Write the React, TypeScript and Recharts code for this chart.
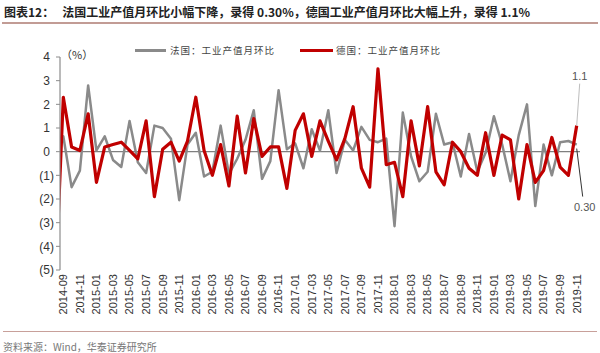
import React from 'react';
import { LineChart, Line, XAxis, YAxis, ReferenceLine, LabelList } from 'recharts';

const months = [
  '2014-08', '2014-09', '2014-10', '2014-11', '2014-12',
  '2015-01', '2015-02', '2015-03', '2015-04', '2015-05', '2015-06', '2015-07', '2015-08', '2015-09', '2015-10', '2015-11', '2015-12',
  '2016-01', '2016-02', '2016-03', '2016-04', '2016-05', '2016-06', '2016-07', '2016-08', '2016-09', '2016-10', '2016-11', '2016-12',
  '2017-01', '2017-02', '2017-03', '2017-04', '2017-05', '2017-06', '2017-07', '2017-08', '2017-09', '2017-10', '2017-11', '2017-12',
  '2018-01', '2018-02', '2018-03', '2018-04', '2018-05', '2018-06', '2018-07', '2018-08', '2018-09', '2018-10', '2018-11', '2018-12',
  '2019-01', '2019-02', '2019-03', '2019-04', '2019-05', '2019-06', '2019-07', '2019-08', '2019-09', '2019-10', '2019-11',
];

const franceMoM = [
  0.3, 0.65, -1.5, -0.8, 2.8, 0.05, 0.65, -0.35, -0.65, 1.3, -0.45, -0.9, 1.1, 1.0, 0.55, -2.05, 0.3, 0.8,
  -1.05, -0.85, 1.1, -0.95, -0.3, 0.5, 1.75, -1.15, -0.4, 2.6, 0.1, 0.35, -0.7, 0.95, 0.05, 1.75, -0.9, 0.5,
  0.05, 1.05, 0.5, 0.4, 0.55, -3.15, 1.65, -0.2, -1.25, -0.85, 1.6, 0.3, 0.4, -1.05, 0.75, -0.85, -0.05, 1.5,
  0.3, -1.25, 0.7, 2.0, -2.3, 0.3, -1.0, 0.4, 0.45, 0.3,
];

const germanyMoM = [
  -6, 2.3, 0.2, 0.05, 1.6, -1.3, 0.2, 0.3, 0.4, 0.05, -0.3, 1.3, -1.9, 0.1, 0.4, -0.4, 0.45, 2.3,
  0.05, -1.0, 0.3, -1.45, 1.5, -0.9, 1.4, -0.2, 0.2, 0.2, -1.55, 0.9, 1.6, -0.2, 1.3, 0.45, -0.35, 0.55,
  1.9, -0.7, -1.5, 3.5, -0.55, -0.45, -1.9, 1.3, -0.6, 1.9, -0.85, -1.4, 0.4, 0.0, -0.7, -1.0, 0.8, -1.0,
  0.7, 0.5, -2.0, 0.3, -1.3, -0.8, 0.6, -0.65, -1.0, 1.1,
];

const yTicks = [-5, -4, -3, -2, -1, 0, 1, 2, 3, 4];
const franceName = '法国：工业产值月环比';
const germanyName = '德国：工业产值月环比';
const franceLast = '0.30';
const germanyLast = '1.1';

// index 0 = 2014-09 (first labelled month); the earlier month sits left of the axis and is clipped
const data = months.map((m, i) => ({ idx: i - 1, month: m, france: franceMoM[i], germany: germanyMoM[i] }));
const xTicks = data.filter((d) => d.idx >= 0 && d.idx % 2 === 0).map((d) => d.idx);
const lastIdx = data.length - 1;

const GRAY = '#8a8a8a';
const RED = '#c00000';
const NUM_FONT = '"Liberation Sans", Arial, sans-serif';
const CJK_FONT = '"Noto Sans CJK SC", "Noto Sans", sans-serif';

const XTick = (props: any) => {
  const { x, y, payload } = props;
  const d = data.find((r) => r.idx === payload.value);
  return (
    <text
      x={x}
      y={y - 4}
      transform={`rotate(-90, ${x}, ${y - 4})`}
      textAnchor="end"
      dy="0.35em"
      fontSize={11}
      fill="#333"
      fontFamily={NUM_FONT}
    >
      {d ? d.month : ''}
    </text>
  );
};

const YTick = (props: any) => {
  const { x, y, payload } = props;
  const v = payload.value as number;
  const label = v < 0 ? `(${Math.abs(v)})` : `${v}`;
  return (
    <text
      x={v < 0 ? x : x - 4}
      y={y}
      dy="0.35em"
      textAnchor="end"
      fontSize={12}
      fill="#333"
      fontFamily={NUM_FONT}
    >
      {label}
    </text>
  );
};

const makeEndLabel = (text: string, dir: 'up' | 'down') => (props: any) => {
  const { x, y, index } = props;
  if (index !== lastIdx) return null;
  if (dir === 'up') {
    return (
      <g>
        <line x1={x} y1={y} x2={x + 3} y2={y - 42} stroke="#bdbdbd" strokeWidth={1} />
        <text x={x + 3} y={y - 46} textAnchor="middle" fontSize={11} fill="#555" fontFamily={NUM_FONT}>
          {text}
        </text>
      </g>
    );
  }
  return (
    <g>
      <line x1={x} y1={y + 4} x2={x + 6} y2={y + 52} stroke="#333" strokeWidth={1} />
      <text x={x + 8} y={y + 66} textAnchor="middle" fontSize={11} fill="#555" fontFamily={NUM_FONT}>
        {text}
      </text>
    </g>
  );
};

const legendText: React.CSSProperties = {
  position: 'absolute', top: 42, fontSize: 9.5, letterSpacing: 1, color: '#444',
  fontFamily: CJK_FONT, lineHeight: '16px', whiteSpace: 'nowrap',
};

export default function App() {
  return (
    <div style={{ position: 'absolute', left: 0, top: 0, width: 600, height: 353, background: '#fff', overflow: 'hidden' }}>
      <div
        style={{
          position: 'absolute', left: 4, top: 4, fontSize: 12, fontWeight: 700, color: '#222',
          fontFamily: CJK_FONT, whiteSpace: 'nowrap', lineHeight: '16px',
        }}
      >
        图表12：&nbsp;&nbsp;&nbsp;法国工业产值月环比小幅下降，录得 0.30%，德国工业产值月环比大幅上升，录得 1.1%
      </div>
      <div style={{ position: 'absolute', left: 2, top: 22, width: 596, height: 2, background: '#c29c95' }} />

      <div style={{ position: 'absolute', left: 0, top: 0 }}>
        <LineChart width={600} height={353} data={data} margin={{ top: 57, right: 20, bottom: 0, left: 0 }}>
          <XAxis
            type="number"
            dataKey="idx"
            domain={[-0.4, 62.4]}
            allowDataOverflow
            ticks={xTicks}
            interval={0}
            axisLine={false}
            tickLine={false}
            height={83}
            tick={XTick}
          />
          <YAxis
            type="number"
            domain={[-5, 4]}
            allowDataOverflow
            ticks={yTicks}
            interval={0}
            width={60}
            axisLine={{ stroke: '#8c8c8c', strokeWidth: 1.2 }}
            tickLine={{ stroke: '#8c8c8c' }}
            tickSize={4}
            tick={YTick}
          />
          <ReferenceLine y={0} stroke="#7f7f7f" strokeWidth={1.2} />
          <Line
            type="linear"
            dataKey="france"
            name={franceName}
            stroke={GRAY}
            strokeWidth={2.5}
            strokeLinejoin="round"
            dot={false}
            activeDot={false}
            isAnimationActive={false}
          >
            <LabelList dataKey="france" content={makeEndLabel(franceLast, 'down')} />
          </Line>
          <Line
            type="linear"
            dataKey="germany"
            name={germanyName}
            stroke={RED}
            strokeWidth={3.2}
            strokeLinejoin="round"
            dot={false}
            activeDot={false}
            isAnimationActive={false}
          >
            <LabelList dataKey="germany" content={makeEndLabel(germanyLast, 'up')} />
          </Line>
        </LineChart>
      </div>

      <div style={{ position: 'absolute', left: 135, top: 49, width: 31, height: 2.5, background: GRAY }} />
      <div style={{ ...legendText, left: 170 }}>{franceName}</div>
      <div style={{ position: 'absolute', left: 300, top: 48.5, width: 33, height: 3.5, background: RED }} />
      <div style={{ ...legendText, left: 336 }}>{germanyName}</div>

      <div style={{ position: 'absolute', left: 61, top: 47, fontSize: 11, color: '#333', fontFamily: CJK_FONT, lineHeight: '14px' }}>
        （%）
      </div>

      <div style={{ position: 'absolute', left: 3, top: 331, width: 594, height: 1, background: '#c8a09a' }} />
      <div
        style={{
          position: 'absolute', left: 3, top: 340, fontSize: 10, color: '#777', fontFamily: CJK_FONT,
          whiteSpace: 'nowrap', lineHeight: '14px',
        }}
      >
        资料来源：Wind，华泰证券研究所
      </div>
    </div>
  );
}
